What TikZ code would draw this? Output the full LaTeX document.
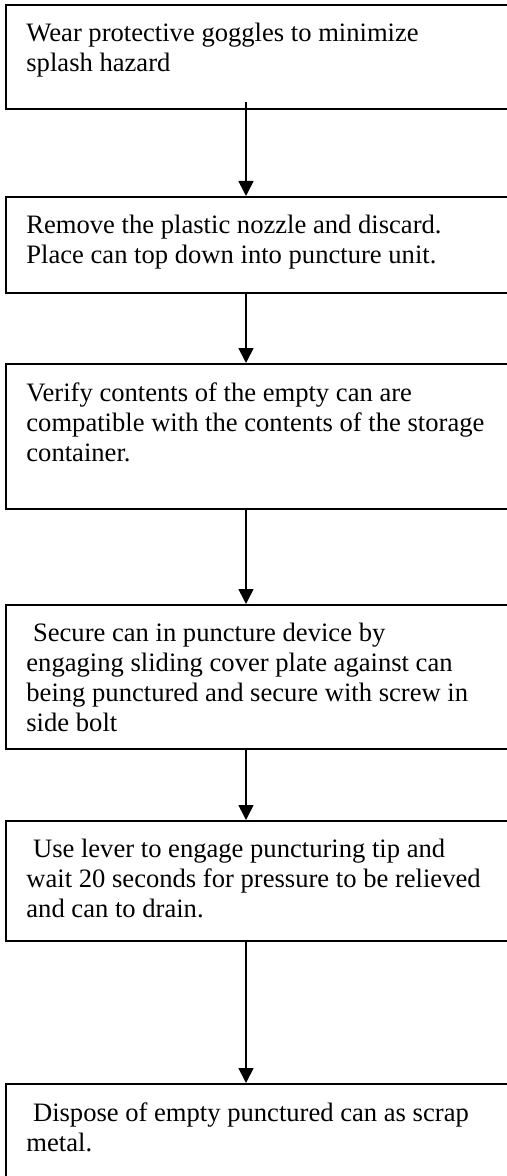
\documentclass[tikz,border=0pt]{standalone}
\usepackage{fontspec}
\setmainfont{Liberation Serif}
\usetikzlibrary{arrows.meta,positioning}

\begin{document}
\begin{tikzpicture}[x=0.5pt, y=-0.5pt,
  stepbox/.style={rectangle, draw, line width=0.9pt, anchor=north west, minimum width=270pt, inner sep=0pt},
  steptext/.style={align=left, inner sep=0pt, font=\fontsize{13.3}{15}\selectfont},
  arr/.style={-{Triangle[length=7.5pt,width=7.5pt]}, line width=0.8pt}
]
\useasboundingbox (0,0) rectangle (507,1176);
\clip (0,0) rectangle (507,1176);

% Boxes
\node[stepbox, minimum height=52pt] (b1) at (5,4) {};
\node[stepbox, minimum height=48pt] (b2) at (5,196) {};
\node[stepbox, minimum height=72.5pt] (b3) at (5,363) {};
\node[stepbox, minimum height=72pt] (b4) at (5,604) {};
\node[stepbox, minimum height=60pt] (b5) at (5,820) {};
\node[stepbox, minimum height=100pt] (b6) at (5,1083) {};

% Texts
\node[steptext, below right=9.5pt and 10.5pt of b1.north west] (t1) {Wear protective goggles to minimize\\splash hazard};
\node[steptext, below right=9.5pt and 10.5pt of b2.north west] (t2) {Remove the plastic nozzle and discard.\\Place can top down into puncture unit.};
\node[steptext, below right=9.5pt and 10.5pt of b3.north west] (t3) {Verify contents of the empty can are\\compatible with the contents of the storage\\container.};
\node[steptext, below right=9.5pt and 10.5pt of b4.north west] (t4) {\ Secure can in puncture device by\\engaging sliding cover plate against can\\being punctured and secure with screw in\\side bolt};
\node[steptext, below right=9.5pt and 10.5pt of b5.north west] (t5) {\ Use lever to engage puncturing tip and\\wait 20 seconds for pressure to be relieved\\and can to drain.};
\node[steptext, below right=9.5pt and 10.5pt of b6.north west] (t6) {\ Dispose of empty punctured can as scrap\\metal.};

% Arrows
\coordinate (axis) at (246,0);
\draw[arr, shorten <=-4pt] (b1.south -| axis) -- (b2.north -| axis);
\draw[arr] (b2.south -| axis) -- (b3.north -| axis);
\draw[arr] (b3.south -| axis) -- (b4.north -| axis);
\draw[arr] (b4.south -| axis) -- (b5.north -| axis);
\draw[arr] (b5.south -| axis) -- (b6.north -| axis);

\end{tikzpicture}
\end{document}
